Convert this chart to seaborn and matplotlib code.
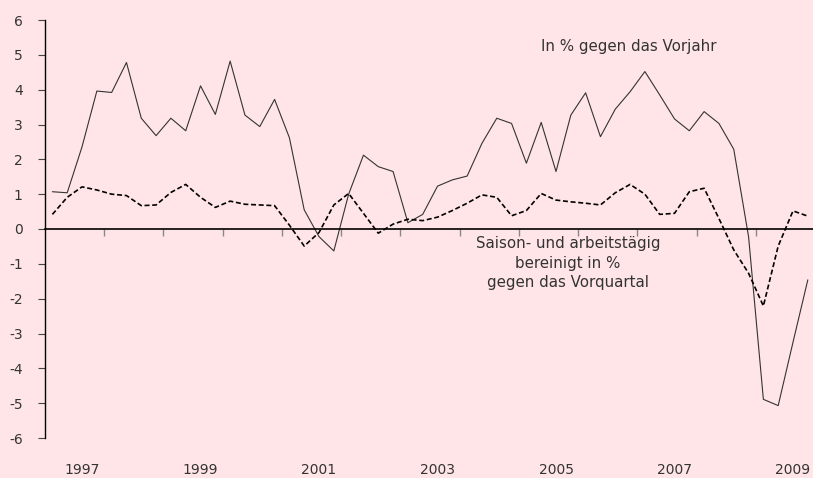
import numpy as np
import pandas as pd
import matplotlib
matplotlib.use("Agg")
import matplotlib.pyplot as plt
import matplotlib.transforms as mtransforms
import seaborn as sns

# quarterly data, 1997Q1 - 2009Q4
quarters = pd.period_range("1997Q1", "2009Q4", freq="Q").astype(str).tolist()

vorjahr = [1.07, 1.04, 2.36, 3.96, 3.92, 4.78, 3.18, 2.68, 3.18, 2.82,
           4.11, 3.29, 4.82, 3.27, 2.94, 3.72, 2.62, 0.55, -0.22, -0.63,
           1.0, 2.12, 1.79, 1.65, 0.18, 0.42, 1.23, 1.41, 1.52, 2.46,
           3.18, 3.03, 1.89, 3.06, 1.65, 3.27, 3.91, 2.65, 3.44, 3.94,
           4.52, 3.85, 3.16, 2.82, 3.37, 3.03, 2.29, -0.22, -4.89, -5.07,
           -3.25, -1.46]

vorquartal = [0.42, 0.91, 1.21, 1.12, 1.0, 0.96, 0.67, 0.69, 1.05, 1.28,
              0.91, 0.62, 0.80, 0.71, 0.69, 0.67, 0.11, -0.49, -0.1, 0.69,
              1.02, 0.45, -0.12, 0.14, 0.28, 0.24, 0.34, 0.53, 0.74, 0.98,
              0.91, 0.38, 0.53, 1.02, 0.83, 0.78, 0.74, 0.69, 1.04, 1.28,
              1.0, 0.42, 0.45, 1.07, 1.17, 0.3, -0.6, -1.27, -2.21, -0.49,
              0.52, 0.37]

year_labels = ["1997", "1999", "2001", "2003", "2005", "2007", "2009"]

label_vorjahr = "In % gegen das Vorjahr"
label_vorquartal = "Saison- und arbeitstägig\nbereinigt in %\ngegen das Vorquartal"

df = pd.DataFrame({"quarter": quarters, "vorjahr": vorjahr, "vorquartal": vorquartal})
df["pos"] = np.arange(len(df))

bg = "#FFE5E7"
sns.set_style("white")
plt.rcParams["font.family"] = ["DejaVu Sans"]
plt.rcParams["axes.unicode_minus"] = False

fig = plt.figure(figsize=(8.13, 4.78), dpi=100, facecolor=bg)
ax = fig.add_axes([45 / 813, 40 / 478, 1 - 45 / 813, 418 / 478])
ax.set_facecolor(bg)

sns.lineplot(data=df, x="pos", y="vorjahr", ax=ax, color="#333333", linewidth=0.8)
sns.lineplot(data=df, x="pos", y="vorquartal", ax=ax, color="black", linewidth=1.2,
             linestyle=(0, (3, 1.6)))

ax.set_xlim(-0.5, 51.35)
ax.set_ylim(-6, 6)
ax.set_xlabel("")
ax.set_ylabel("")

# axes styling
for side in ["top", "right"]:
    ax.spines[side].set_visible(False)
ax.spines["left"].set_color("black")
ax.spines["left"].set_linewidth(1.0)
ax.spines["bottom"].set_position(("data", 0))
ax.spines["bottom"].set_color("black")
ax.spines["bottom"].set_linewidth(1.2)

ax.set_yticks(range(-6, 7))
ax.set_yticklabels([str(v) for v in range(-6, 7)])
ax.tick_params(axis="y", direction="out", length=5, width=0.8, color="#444444",
               pad=11, labelsize=10, labelcolor="#333333", left=True)

# year boundary ticks on the zero line
year_ticks = [i - 0.5 for i in range(4, len(df), 4)]
ax.set_xticks(year_ticks)
ax.set_xticklabels([])
ax.tick_params(axis="x", direction="out", length=5, width=1, color="#888888", bottom=True)

# year labels along the bottom
trans = mtransforms.blended_transform_factory(ax.transData, ax.transAxes)
for lab in year_labels:
    xpos = quarters.index(lab + "Q3")
    ax.text(xpos, -0.077, lab, transform=trans, ha="center", va="center",
            fontsize=10, color="#333333", clip_on=False)

ax.text(33, 5.23, label_vorjahr, ha="left", va="center", fontsize=10.8, color="#333333")
ax.text(34.8, -0.98, label_vorquartal, ha="center", va="center", fontsize=10.8,
        color="#333333", linespacing=1.35)

fig.savefig("out.png", dpi=100, facecolor=bg)
